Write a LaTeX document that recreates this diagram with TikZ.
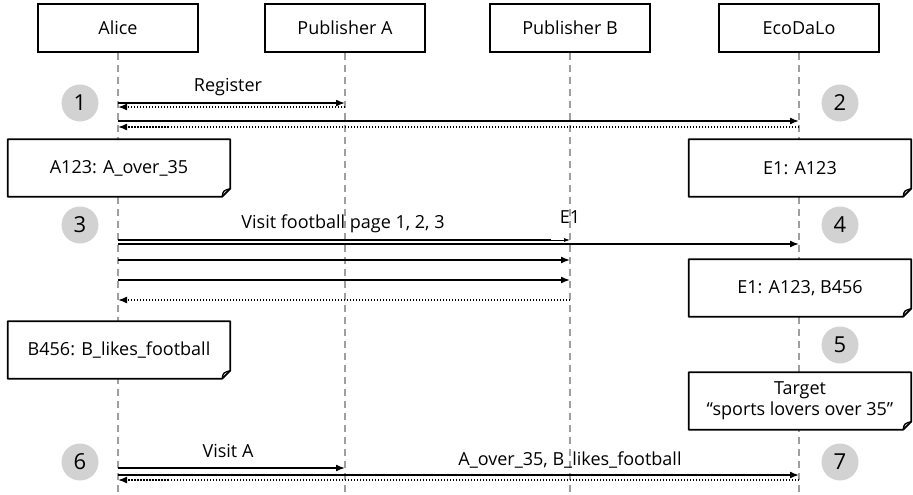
\documentclass[tikz,border=0pt]{standalone}
\usepackage{fontspec}
\setmainfont{Open Sans}
\usetikzlibrary{arrows.meta}

\tikzset{
  actor/.style={draw, line width=2.6pt, minimum width=160pt, minimum height=48pt, font=\fontsize{18}{21}\selectfont},
  life/.style={draw=gray!75, line width=1.4pt, dash pattern=on 7pt off 5pt},
  stepnum/.style={circle, fill=gray!35, minimum size=37pt, inner sep=0pt, font=\fontsize{22}{26}\selectfont},
  note/.style={fill=white, minimum width=222pt, minimum height=57pt, align=center, font=\fontsize{18}{21}\selectfont},
  lbl/.style={font=\fontsize{18}{21}\selectfont, inner sep=1pt},
  msg/.style={line width=1.6pt, -{Latex[length=9pt,width=7pt]}},
  ret/.style={line width=1.6pt, dash pattern=on 1.5pt off 1.5pt, -{Latex[length=9pt,width=7pt]}}
}

% note with a folded corner: name, x, y, text
\newcommand\notebox[4]{%
  \node[note] (#1) at (#2,#3) {#4};
  \draw[line width=1.8pt, line join=round] (#1.north west) -- (#1.north east) -- ([yshift=8pt]#1.south east)
    -- ([xshift=-8pt]#1.south east) -- (#1.south west) -- cycle;
  \draw[line width=1.4pt] ([xshift=-8pt]#1.south east) .. controls ([xshift=-7pt,yshift=6pt]#1.south east) .. ([yshift=8pt]#1.south east);
}

\begin{document}
\begin{tikzpicture}[x=1pt, y=-1pt]
  \useasboundingbox (0,0) rectangle (913,495);

  % participants
  \node [actor] (alice) at (118,28) {Alice};
  \node [actor] (puba) at (345,28) {Publisher A};
  \node [actor] (pubb) at (570,28) {Publisher B};
  \node [actor] (eco) at (799,28) {EcoDaLo};

  \foreach \p in {alice, puba, pubb, eco}
    \draw [life] (\p.south) -- (\p |- 0,495);

  % message rows
  \foreach \n/\y in {m1/103, r1/107, m2/121, r2/127, m3/240, m4/244, m5/260, m6/280, r3/300, m7/468, m8/475, r4/480}
    \coordinate (\n) at (0,\y);

  % steps
  \node [stepnum] (s1) at (80,103) {1};
  \node [stepnum] (s2) at (840,103) {2};
  \node [stepnum] (s3) at (80,225) {3};
  \node [stepnum] (s4) at (840,225) {4};
  \node [stepnum] (s5) at (840,345) {5};
  \node [stepnum] (s6) at (80,462) {6};
  \node [stepnum] (s7) at (840,462) {7};

  % notes
  \notebox{na}{119}{168}{A123: A\_over\_35}
  \notebox{ne}{800}{168}{E1: A123}
  \notebox{nef}{800}{288}{E1: A123, B456}
  \notebox{nb}{119}{350}{B456: B\_likes\_football}
  \notebox{nt}{800}{401}{Target\\``sports lovers over 35''}

  % register
  \node [lbl] (lreg) at (228,87) {Register};
  \draw [msg] (alice |- m1) -- (puba |- m1);
  \draw [ret] (puba |- r1) -- (alice |- r1);
  \draw [msg] (alice |- m2) -- (eco |- m2);
  \draw [ret] (eco |- r2) -- (alice |- r2);

  % visits
  \node [lbl] (lvisit) at (343,224) {Visit football page 1, 2, 3};
  \node [lbl] (le1) at (570,217) {E1};
  \draw [line width=0.8pt, -{Latex[length=6pt,width=4pt]}] (alice |- m3) -- (pubb |- m3);
  \draw [line width=1.6pt] (alice |- m3) -- ([xshift=-19pt]pubb |- m3);
  \draw [msg] (alice |- m4) -- (eco |- m4);
  \draw [msg] (alice |- m5) -- (pubb |- m5);
  \draw [msg] (alice |- m6) -- (pubb |- m6);
  \draw [ret] (pubb |- r3) -- (alice |- r3);

  % targeting
  \node [lbl] (lva) at (228,451) {Visit A};
  \node [lbl] (lsegs) at (570,460) {A\_over\_35, B\_likes\_football};
  \draw [msg] (alice |- m7) -- (puba |- m7);
  \draw [msg] (alice |- m8) -- (eco |- m8);
  \draw [ret] (eco |- r4) -- (alice |- r4);
\end{tikzpicture}
\end{document}
